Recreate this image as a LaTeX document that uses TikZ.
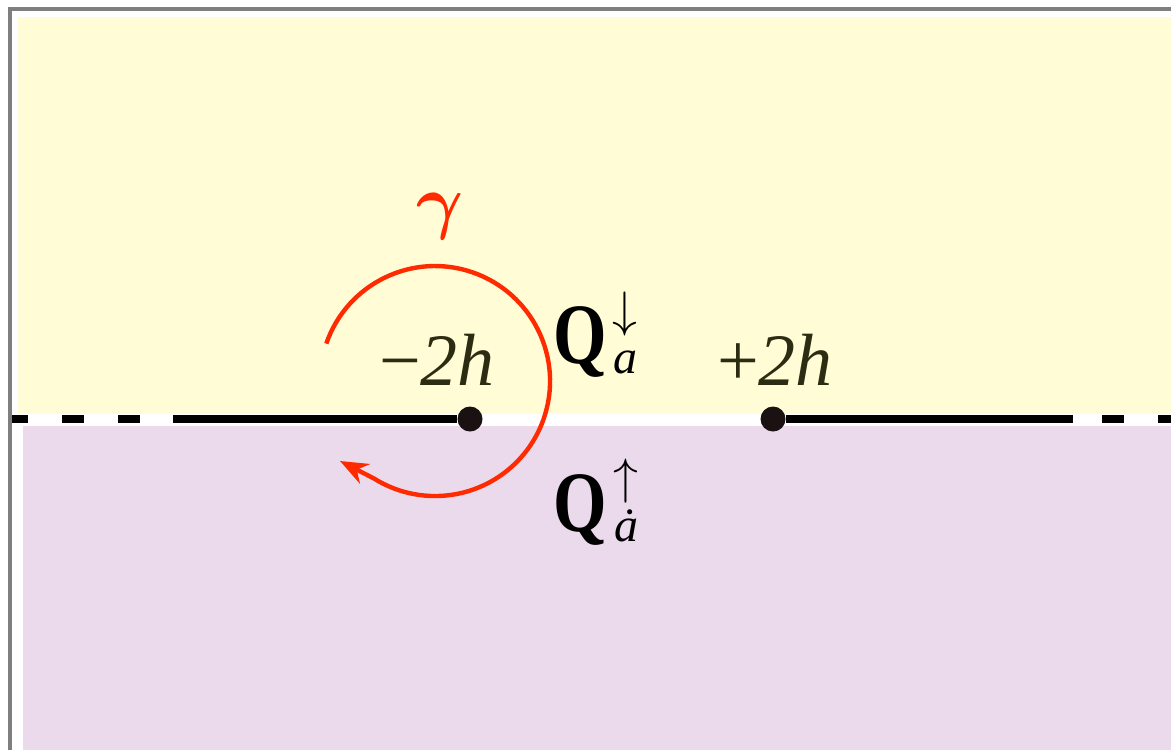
\documentclass[tikz,border=0pt]{standalone}
\usepackage{amsmath}
\usepackage{graphicx}
\usepackage{fontspec}
\setmainfont{Liberation Serif}
\usetikzlibrary{arrows.meta}
\definecolor{bgyellow}{HTML}{FFFCD6}
\definecolor{bgpurple}{HTML}{EBD9EC}
\definecolor{framegray}{HTML}{7F7F7F}
\definecolor{gammared}{HTML}{FF2A00}
\definecolor{labeldark}{HTML}{2C2C12}
\definecolor{dotdark}{HTML}{1A1212}
\begin{document}
\begin{tikzpicture}[x=0.5pt,y=-0.5pt,
  framestyle/.style={draw=framegray, line width=2pt},
  cutline/.style={line width=4pt, draw=black},
  dashcut/.style={cutline, dash pattern=on 11pt off 17pt},
  dotnode/.style={circle, fill=dotdark, inner sep=0pt, minimum size=12.5pt},
  pointlabel/.style={inner sep=0pt, text=labeldark, anchor=base, font=\fontsize{37}{44}\selectfont},
  qletter/.style={inner sep=0pt, text=black, anchor=base west, font=\fontsize{43}{50}\selectfont\bfseries},
  qscript/.style={inner sep=0pt, text=black, font=\fontsize{24}{28}\selectfont},
  contour/.style={draw=gammared, line width=2.2pt, -{Stealth[length=14pt, width=11pt]}}
]
\useasboundingbox (0,0) rectangle (1171,750);
% regions
\fill[bgyellow] (18,17) rectangle (1171,414);
\fill[bgpurple] (23,426) rectangle (1171,750);
% branch points and cuts
\node[dotnode] (m) at (470,419) {};
\node[dotnode] (p) at (773,419) {};
\coordinate (cutL) at (173,419);
\coordinate (cutR) at (1073,419);
\coordinate (dashLa) at (140,419);
\coordinate (dashLb) at (12,419);
\coordinate (dashRa) at (1102,419);
\coordinate (dashRb) at (1180,419);
\draw[cutline] (cutL) -- (m);
\draw[cutline] (p) -- (cutR);
\draw[dashcut] (dashLa) -- (dashLb);
\draw[dashcut] (dashRa) -- (dashRb);
% frame
\draw[framestyle] (10,750) -- (10,9) -- (1171,9);
% labels
\node[pointlabel] (lm) at (437,385) {−\textit{2h}};
\node[pointlabel] (lp) at (775,385) {+\textit{2h}};
\node[inner sep=0pt, text=gammared, font=\fontsize{37}{44}\selectfont] (g) at (440,216) {\scalebox{1.45}{$\boldsymbol{\gamma}$}};
\node[qletter] (qd) at (553,363) {\scalebox{0.8}[1]{Q}};
\node[qscript] (qdsup) at (625,314) {$\downarrow$};
\node[qscript, anchor=base] (qdsub) at (625,373) {\textit{a}};
\node[qletter] (qu) at (553,531) {\scalebox{0.8}[1]{Q}};
\node[qscript] (qusup) at (626,481) {$\uparrow$};
\node[qscript, anchor=base] (qusub) at (626,541) {\textit{\.{a}}};
% contour
\coordinate (cs) at (326.3,343.6);
\coordinate (tip) at (340,461);
\draw[contour] (cs) arc[start angle=-161, end angle=122, radius=115] -- (tip);
\end{tikzpicture}
\end{document}
